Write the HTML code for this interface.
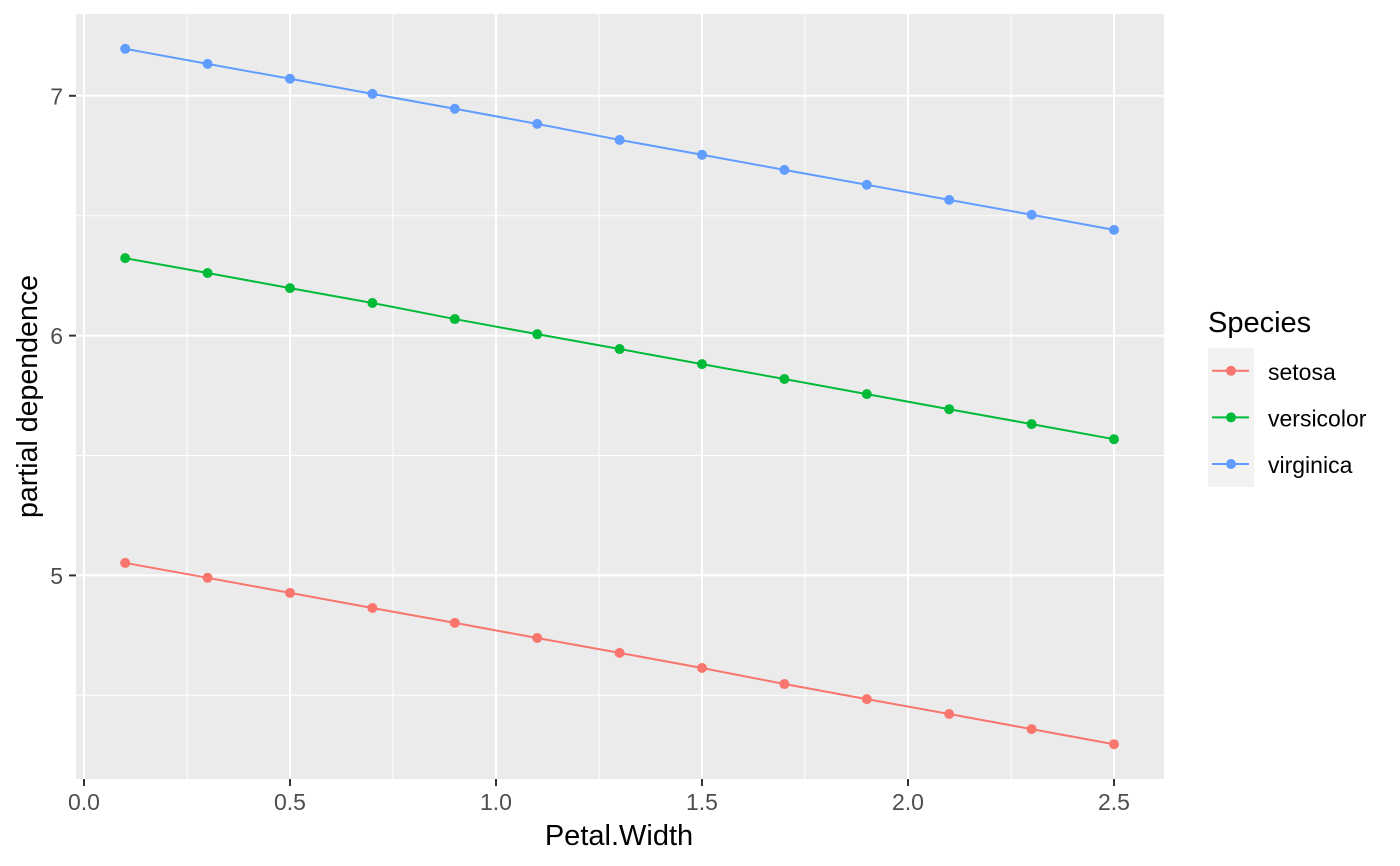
<!DOCTYPE html>
<html lang="en">
<head>
<meta charset="utf-8">
<title>Partial dependence by species</title>
<style>
html,body{margin:0;padding:0;background:#fff;width:1400px;height:866px;overflow:hidden}
svg{display:block}
text{font-family:"Liberation Sans",Arial,sans-serif}
</style>
</head>
<body>
<svg id="chart" width="1400" height="866" viewBox="0 0 1400 866" xmlns="http://www.w3.org/2000/svg"></svg>
<script>
const petalWidth = [0.1, 0.3, 0.5, 0.7, 0.9, 1.1, 1.3, 1.5, 1.7, 1.9, 2.1, 2.3, 2.5];
const setosa = [5.052, 4.990, 4.927, 4.864, 4.802, 4.739, 4.677, 4.614, 4.547, 4.484, 4.422, 4.359, 4.296];
const versicolor = [6.323, 6.261, 6.198, 6.136, 6.069, 6.006, 5.944, 5.881, 5.819, 5.756, 5.693, 5.631, 5.568];
const virginica = [7.196, 7.133, 7.071, 7.008, 6.946, 6.883, 6.816, 6.754, 6.691, 6.629, 6.566, 6.504, 6.441];
const seriesNames = ["setosa", "versicolor", "virginica"];
const seriesColors = ["#F8766D", "#00BA38", "#619CFF"];
const xTicks = [0.0, 0.5, 1.0, 1.5, 2.0, 2.5];
const xTickLabels = ["0.0", "0.5", "1.0", "1.5", "2.0", "2.5"];
const xMinorTicks = [0.25, 0.75, 1.25, 1.75, 2.25];
const yTicks = [5, 6, 7];
const yTickLabels = ["5", "6", "7"];
const yMinorTicks = [4.5, 5.5, 6.5];

const seriesValues = [setosa, versicolor, virginica];
const panel = {left: 76, right: 1164, top: 14, bottom: 779};
const svg = document.getElementById('chart');
const NS = 'http://www.w3.org/2000/svg';
const xScale = v => 84 + (v - 0) * 412;
const yScale = v => 95.8 + (7 - v) * 239.8;

function make(tag, attrs, text) {
  const el = document.createElementNS(NS, tag);
  for (const k in attrs) el.setAttribute(k, attrs[k]);
  if (text !== undefined) el.textContent = text;
  svg.appendChild(el);
  return el;
}

const bg = make('rect', {x: panel.left, y: panel.top, width: panel.right - panel.left, height: panel.bottom - panel.top, fill: '#EBEBEB'});



yMinorTicks.forEach(v => {
  const g = make('line', {x1: panel.left, x2: panel.right, y1: yScale(v), y2: yScale(v), stroke: '#fff', 'stroke-width': 1});
  
  
});
xMinorTicks.forEach(v => {
  const g = make('line', {x1: xScale(v), x2: xScale(v), y1: panel.top, y2: panel.bottom, stroke: '#fff', 'stroke-width': 1});
  
  
});
yTicks.forEach((v, i) => {
  const g = make('line', {x1: panel.left, x2: panel.right, y1: yScale(v), y2: yScale(v), stroke: '#fff', 'stroke-width': 2});
  
  
  const t = make('line', {x1: panel.left - 7, x2: panel.left, y1: yScale(v), y2: yScale(v), stroke: '#333333', 'stroke-width': 2});
  
  
  const l = make('text', {x: 63, y: yScale(v) + 8.5, 'text-anchor': 'end', 'font-size': 23, fill: '#4D4D4D'}, yTickLabels[i]);
  
  
});
xTicks.forEach((v, i) => {
  const g = make('line', {x1: xScale(v), x2: xScale(v), y1: panel.top, y2: panel.bottom, stroke: '#fff', 'stroke-width': 2});
  
  
  const t = make('line', {x1: xScale(v), x2: xScale(v), y1: panel.bottom, y2: panel.bottom + 7, stroke: '#333333', 'stroke-width': 2});
  
  
  const l = make('text', {x: xScale(v), y: 810, 'text-anchor': 'middle', 'font-size': 23, fill: '#4D4D4D'}, xTickLabels[i]);
  
  
});

seriesValues.forEach((vals, s) => {
  const pts = vals.map((v, i) => xScale(petalWidth[i]) + ',' + yScale(v)).join(' ');
  const line = make('polyline', {points: pts, fill: 'none', stroke: seriesColors[s], 'stroke-width': 2});
  
  
  vals.forEach((v, i) => {
    const c = make('circle', {cx: xScale(petalWidth[i]), cy: yScale(v), r: 5, fill: seriesColors[s]});
    
    
  });
});

const xTitle = make('text', {x: 619, y: 845, 'text-anchor': 'middle', 'font-size': 29, fill: '#000'}, 'Petal.Width');


const yTitle = make('text', {x: 0, y: 0, transform: 'translate(37,396.5) rotate(-90)', 'text-anchor': 'middle', 'font-size': 29, fill: '#000', textLength: 243, lengthAdjust: 'spacingAndGlyphs'}, 'partial dependence');



const legendTitle = make('text', {x: 1208, y: 332, 'font-size': 29, fill: '#000'}, 'Species');


const legendBg = make('rect', {x: 1208, y: 348, width: 46, height: 139, fill: '#F2F2F2'});


seriesNames.forEach((name, i) => {
  const cy = 370.8 + i * 46.6;
  const k = make('line', {x1: 1212, x2: 1249, y1: cy, y2: cy, stroke: seriesColors[i], 'stroke-width': 2});
  
  
  const p = make('circle', {cx: 1231, cy: cy, r: 5, fill: seriesColors[i]});
  
  
  const t = make('text', {x: 1268, y: cy + 9, 'font-size': 23, fill: '#000'}, name);
  
  
});
</script>
</body>
</html>
